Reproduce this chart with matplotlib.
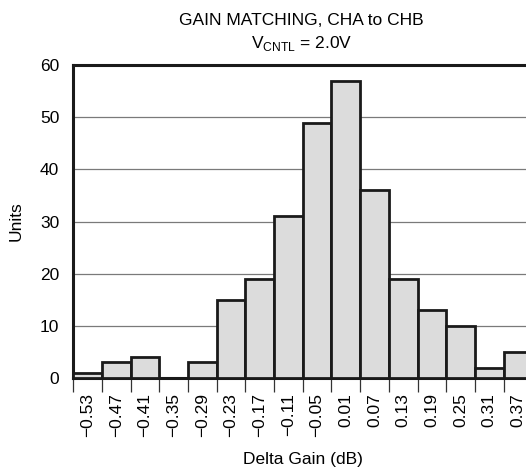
import matplotlib.pyplot as plt

# histogram of channel-to-channel gain mismatch
bin_labels = ["−0.53", "−0.47", "−0.41", "−0.35", "−0.29", "−0.23", "−0.17", "−0.11",
              "−0.05", "0.01", "0.07", "0.13", "0.19", "0.25", "0.31", "0.37"]
units = [1, 3, 4, 0, 3, 15, 19, 31, 49, 57, 36, 19, 13, 10, 2, 5]

plt.rcParams["font.family"] = ["Liberation Sans", "DejaVu Sans"]
fs = 12.5

fig = plt.figure(figsize=(5.26, 4.72), dpi=100)
ax = fig.add_axes([0.139, 0.199, 0.873, 0.663])

positions = list(range(len(units)))
ax.bar(positions, units, width=1.0, align="edge", color="#dcdcdc",
       edgecolor="#1a1a1a", linewidth=2.0, zorder=3)

ax.set_xlim(0, len(units))
ax.set_ylim(0, 60)
ax.set_yticks(range(0, 61, 10))
ax.yaxis.grid(True, color="#7a7a7a", linewidth=0.9, zorder=0)

# labels sit under the bin centres, tick marks on the bin edges
ax.set_xticks([p + 0.5 for p in positions])
ax.set_xticklabels(bin_labels, rotation=90, fontsize=fs)
ax.set_xticks(positions + [len(units)], minor=True)
ax.tick_params(axis="x", which="major", length=0, pad=11)
ax.tick_params(axis="x", which="minor", length=10, width=0.9, color="#333333")
ax.tick_params(axis="y", length=0, labelsize=fs, pad=10)

for side in ["top", "left", "bottom"]:
    ax.spines[side].set_linewidth(2.2)
    ax.spines[side].set_color("#1a1a1a")
ax.spines["right"].set_visible(False)

ax.set_ylabel("Units", fontsize=fs, labelpad=12)
fig.text(0.575, 0.018, "Delta Gain (dB)", ha="center", fontsize=fs)

fig.text(0.573, 0.948, "GAIN MATCHING, CHA to CHB", ha="center", fontsize=fs)
fig.text(0.573, 0.898, r"V$_{\mathregular{CNTL}}$ = 2.0V", ha="center", fontsize=fs)

fig.savefig("out.png", dpi=100)
